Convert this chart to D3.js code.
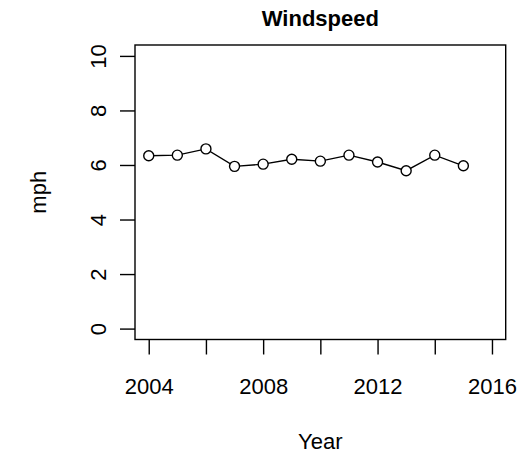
<html>
<head>
<meta charset="utf-8">
<title>Windspeed</title>
<style type="text/css">
    body { margin: 0; background: #fff; }
    text { font-family: "Liberation Sans", Arial, sans-serif; fill: #000; }
</style>
</head>
<body>
<script src="https://d3js.org/d3.v7.min.js"></script>
<script>

    // data
    var years = [2004, 2005, 2006, 2007, 2008, 2009, 2010, 2011, 2012, 2013, 2014, 2015];
    var windspeed = [6.34, 6.36, 6.59, 5.95, 6.03, 6.21, 6.14, 6.36, 6.11, 5.79, 6.36, 5.97];
    var xTicks = [2004, 2006, 2008, 2010, 2012, 2014, 2016];
    var xTickLabels = [2004, 2008, 2012, 2016];
    var yTicks = [0, 2, 4, 6, 8, 10];

    var width = 520, height = 453;
    var box = {left: 135, right: 505.7, top: 45, bottom: 339.5};
    var fontSize = 22;

    var data = years.map(function(y, i) { return {x: y, y: windspeed[i]}; });

    // R style: axis limits extended 4% past the range
    var x = d3.scaleLinear()
        .domain([2003.52, 2016.48])
        .range([box.left, box.right]);
    var y = d3.scaleLinear()
        .domain([-0.4, 10.4])
        .range([box.bottom, box.top]);

    var svg = d3.select("body").append("svg")
        .attr("width", width)
        .attr("height", height);

    // x axis: ticks every 2 years, labels only every 4
    var xAxis = svg.append("g")
        .attr("transform", "translate(0," + box.bottom + ")")
        .call(d3.axisBottom(x)
            .tickValues(xTicks)
            .tickSize(15)
            .tickFormat(function(d) { return xTickLabels.indexOf(d) >= 0 ? d : ""; }));
    xAxis.select(".domain").remove();
    xAxis.selectAll(".tick line").attr("stroke", "#000").attr("stroke-width", 1.4);
    xAxis.selectAll(".tick text")
        .attr("font-size", fontSize)
        .attr("font-family", null)
        .attr("dy", null)
        .attr("y", 54);

    // y axis, labels rotated like R's las=0
    var yAxis = svg.append("g")
        .attr("transform", "translate(" + box.left + ",0)")
        .call(d3.axisLeft(y).tickValues(yTicks).tickSize(15));
    yAxis.select(".domain").remove();
    yAxis.selectAll(".tick line").attr("stroke", "#000").attr("stroke-width", 1.4);
    yAxis.selectAll(".tick text")
        .attr("font-size", fontSize)
        .attr("font-family", null)
        .attr("x", null)
        .attr("dy", null)
        .attr("text-anchor", "middle")
        .attr("transform", "translate(-29,0) rotate(-90)");

    // plot box
    svg.append("rect")
        .attr("x", box.left)
        .attr("y", box.top)
        .attr("width", box.right - box.left)
        .attr("height", box.bottom - box.top)
        .attr("fill", "none")
        .attr("stroke", "#000")
        .attr("stroke-width", 1.4);

    var line = d3.line()
        .x(function(d) { return x(d.x); })
        .y(function(d) { return y(d.y); });

    svg.append("path")
        .datum(data)
        .attr("d", line)
        .attr("fill", "none")
        .attr("stroke", "#000")
        .attr("stroke-width", 1.4);

    svg.selectAll(".point")
        .data(data)
        .enter().append("circle")
        .attr("class", "point")
        .attr("cx", function(d) { return x(d.x); })
        .attr("cy", function(d) { return y(d.y); })
        .attr("r", 5)
        .attr("fill", "#fff")
        .attr("stroke", "#000")
        .attr("stroke-width", 1.4);

    // titles
    svg.append("text")
        .attr("x", (box.left + box.right) / 2)
        .attr("y", 26)
        .attr("text-anchor", "middle")
        .attr("font-size", fontSize)
        .attr("font-weight", "bold")
        .text("Windspeed");

    svg.append("text")
        .attr("x", (box.left + box.right) / 2)
        .attr("y", 449)
        .attr("text-anchor", "middle")
        .attr("font-size", fontSize)
        .text("Year");

    svg.append("text")
        .attr("text-anchor", "middle")
        .attr("transform", "translate(46," + (box.top + box.bottom) / 2 + ") rotate(-90)")
        .attr("font-size", fontSize)
        .text("mph");

</script>
</body>
</html>
